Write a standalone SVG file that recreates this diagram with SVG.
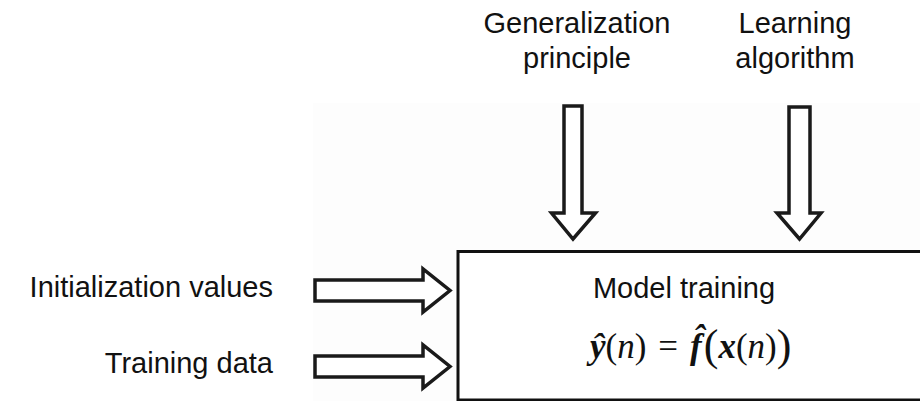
<svg xmlns="http://www.w3.org/2000/svg" width="920" height="401" viewBox="0 0 920 401">
  <defs>
    <style>
      .lbl { font-family: "Liberation Sans", "DejaVu Sans", sans-serif; font-size: 29px; fill: #111; }
      .math { font-family: "Liberation Serif", "DejaVu Serif", serif; font-size: 35px; fill: #111; }
      .bi { font-weight: bold; font-style: italic; }
      .it { font-style: italic; }
      .big { font-size: 44px; }
      .arrow { fill: #fff; stroke: #1a1a1a; stroke-width: 3.5; stroke-linejoin: miter; }
      .box { fill: #fff; stroke: #111; stroke-width: 3; }
    </style>
  </defs>
  <rect width="920" height="401" fill="#fff"/>
  <!-- pale backdrop behind the block diagram -->
  <rect x="313" y="103" width="607" height="298" fill="#fdfdfd"/>

  <!-- input labels -->
  <g id="label-generalization">
    <text class="lbl" x="577" y="33" text-anchor="middle">Generalization</text>
    <text class="lbl" x="577" y="68" text-anchor="middle">principle</text>
  </g>
  <g id="label-learning">
    <text class="lbl" x="795" y="33" text-anchor="middle">Learning</text>
    <text class="lbl" x="795" y="68" text-anchor="middle">algorithm</text>
  </g>
  <g id="label-init">
    <text class="lbl" x="273" y="297" text-anchor="end">Initialization values</text>
  </g>
  <g id="label-data">
    <text class="lbl" x="273" y="373" text-anchor="end">Training data</text>
  </g>

  <!-- training block -->
  <g id="model-training">
    <rect class="box" x="458" y="251.5" width="480" height="148.5"/>
    <text class="lbl" x="684" y="298" text-anchor="middle">Model training</text>
    <text class="math" x="590" y="358"><tspan class="bi">ŷ</tspan>(<tspan class="it">n</tspan>)<tspan dx="12">=</tspan><tspan class="bi" dx="12">f&#x302;</tspan><tspan class="big" dx="2" dy="2">(</tspan><tspan class="bi" dy="-2">x</tspan>(<tspan class="it">n</tspan>)<tspan class="big" dy="2">)</tspan></text>
  </g>

  <!-- block arrows feeding the training block -->
  <g id="connectors">
    <polygon class="arrow" points="564,106 582,106 582,213 595.5,213 573,239 551.5,213 564,213"/>
    <polygon class="arrow" points="789,107 810,107 810,213 821,213 799.5,239 777,213 789,213"/>
    <polygon class="arrow" points="315,280 423,280 423,269 450,290.5 423,312 423,301 315,301"/>
    <polygon class="arrow" points="315,356 423,356 423,345 450,366.5 423,388 423,377 315,377"/>
  </g>
</svg>
